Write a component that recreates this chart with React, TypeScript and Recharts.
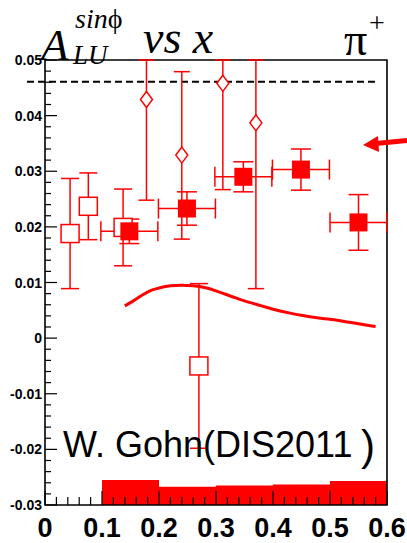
import {
  ComposedChart,
  Scatter,
  Line,
  XAxis,
  YAxis,
  ErrorBar,
  ReferenceArea,
  ReferenceLine,
} from 'recharts';

// New measurement: filled squares, x bins of 0.1
const newX = [0.148, 0.249, 0.348, 0.449, 0.55];
const newA = [0.0192, 0.0233, 0.029, 0.0303, 0.0208];
const newErr = [0.0022, 0.003, 0.0027, 0.0037, 0.005];
const newBinHalf = [0.05, 0.05, 0.05, 0.05, 0.05];

// Earlier measurement: open squares
const oldX = [0.044, 0.076, 0.137, 0.27];
const oldA = [0.0188, 0.0237, 0.0199, -0.005];
const oldErr = [0.0099, 0.006, 0.0069, 0.0148];

// Open diamonds, upper bars end at the frame top
const diaX = [0.178, 0.24, 0.312, 0.37];
const diaA = [0.0429, 0.0329, 0.0458, 0.0387];
const diaErrLow = [0.0181, 0.0151, 0.0191, 0.0298];
const diaErrHigh = [0.0071, 0.015, 0.0042, 0.0113];

// Model curve
const curveX = [0.14, 0.155, 0.17, 0.184, 0.2, 0.22, 0.24, 0.26, 0.28, 0.3, 0.33, 0.35, 0.38, 0.4, 0.43, 0.45, 0.48, 0.5, 0.53, 0.55, 0.58];
const curveA = [0.0058, 0.0067, 0.0077, 0.0085, 0.009, 0.0094, 0.0095, 0.0094, 0.0091, 0.0085, 0.0074, 0.0067, 0.0058, 0.0052, 0.0045, 0.0041, 0.0036, 0.0034, 0.0029, 0.0026, 0.0021];

// Systematic band per x bin
const sysLo = [0.1, 0.2, 0.3, 0.4, 0.5];
const sysHi = [0.2, 0.3, 0.4, 0.5, 0.6];
const sysTop = [-0.0255, -0.0267, -0.0265, -0.0263, -0.0257];

const dashedLevel = 0.0461;

const yMajor = [-0.03, -0.02, -0.01, 0, 0.01, 0.02, 0.03, 0.04, 0.05];
const yLabels = ['-0.03', '-0.02', '-0.01', '0', '0.01', '0.02', '0.03', '0.04', '0.05'];
const xMajor = [0, 0.1, 0.2, 0.3, 0.4, 0.5, 0.6];
const xLabels = ['0', '0.1', '0.2', '0.3', '0.4', '0.5', '0.6'];

const RED = '#ff0000';

const newData = newX.map((x, i) => ({ x, y: newA[i], ey: newErr[i], ex: newBinHalf[i] }));
const oldData = oldX.map((x, i) => ({ x, y: oldA[i], ey: oldErr[i] }));
const diaData = diaX.map((x, i) => ({ x, y: diaA[i], ey: [diaErrLow[i], diaErrHigh[i]] }));
const curveData = curveX.map((x, i) => ({ x, y: curveA[i] }));

// minor ticks between the labelled ones
const yTicks: number[] = [];
for (let i = -15; i <= 25; i++) yTicks.push(+(i * 0.002).toFixed(3));
const xTicks: number[] = [];
for (let i = 0; i <= 30; i++) xTicks.push(+(i * 0.02).toFixed(2));

const YTick = ({ x, y, payload }: any) => {
  const v = payload.value;
  const idx = yMajor.findIndex((m) => Math.abs(m - v) < 1e-9);
  const major = idx >= 0;
  return (
    <g>
      <line x1={x} y1={y} x2={x + (major ? 12 : 6)} y2={y} stroke="#000" strokeWidth={1.2} />
      {major && (
        <text x={x - 3} y={y + 5} textAnchor="end" fontSize={14} fontWeight="bold" fontFamily="Liberation Sans, Arial" fill="#000">
          {yLabels[idx]}
        </text>
      )}
    </g>
  );
};

const XTick = ({ x, y, payload }: any) => {
  const v = payload.value;
  const idx = xMajor.findIndex((m) => Math.abs(m - v) < 1e-9);
  const major = idx >= 0;
  return (
    <g>
      <line x1={x} y1={y} x2={x} y2={y - (major ? 14 : 8)} stroke="#000" strokeWidth={1.2} />
      {major && (
        <text x={x} y={y + 32} textAnchor="middle" fontSize={27} fontWeight="bold" fontFamily="Liberation Sans, Arial" fill="#000">
          {xLabels[idx]}
        </text>
      )}
    </g>
  );
};

const FilledSquare = ({ cx, cy }: any) => <rect x={cx - 9} y={cy - 9} width={18} height={18} fill={RED} />;
const OpenSquare = ({ cx, cy }: any) => (
  <rect x={cx - 9} y={cy - 9} width={18} height={18} fill="#fff" stroke={RED} strokeWidth={1.5} />
);
const Diamond = ({ cx, cy }: any) => (
  <polygon points={`${cx},${cy - 8} ${cx + 6},${cy} ${cx},${cy + 8} ${cx - 6},${cy}`} fill="#fff" stroke={RED} strokeWidth={1.5} />
);

const App = () => {
  return (
    <div style={{ position: 'absolute', left: 0, top: 0, width: 407, height: 543, background: '#fff' }}>
      <ComposedChart width={407} height={543} margin={{ top: 60, right: 20, left: 0, bottom: 0 }}>
        <XAxis
          type="number"
          dataKey="x"
          domain={[0, 0.6]}
          ticks={xTicks}
          interval={0}
          tick={<XTick />}
          tickLine={false}
          tickSize={0}
          tickMargin={0}
          height={38}
          axisLine={false}
          allowDataOverflow
        />
        <YAxis
          type="number"
          domain={[-0.03, 0.05]}
          ticks={yTicks}
          interval={0}
          tick={<YTick />}
          tickLine={false}
          tickSize={0}
          tickMargin={0}
          width={45}
          axisLine={false}
          allowDataOverflow
        />
        {sysLo.map((lo, i) => (
          <ReferenceArea key={`sys-${i}`} x1={lo} x2={sysHi[i]} y1={-0.03} y2={sysTop[i]} fill={RED} fillOpacity={1} stroke="none" />
        ))}
        <ReferenceArea x1={0} x2={0.6} y1={-0.03} y2={0.05} fill="none" stroke="#000" strokeWidth={1.6} />
        <ReferenceLine
          segment={[{ x: -0.0316, y: dashedLevel }, { x: 0.5825, y: dashedLevel }]}
          stroke="#000"
          strokeWidth={2}
          strokeDasharray="7 4"
          ifOverflow="visible"
        />
        <Line data={curveData} dataKey="y" type="monotone" stroke={RED} strokeWidth={3} dot={false} isAnimationActive={false} />
        <Scatter data={oldData} dataKey="y" shape={<OpenSquare />} isAnimationActive={false}>
          <ErrorBar dataKey="ey" direction="y" width={9} stroke={RED} strokeWidth={1.5} />
        </Scatter>
        <Scatter data={diaData} dataKey="y" shape={<Diamond />} isAnimationActive={false}>
          <ErrorBar dataKey="ey" direction="y" width={8} stroke={RED} strokeWidth={1.5} />
        </Scatter>
        <Scatter data={newData} dataKey="y" shape={<FilledSquare />} isAnimationActive={false}>
          <ErrorBar dataKey="ey" direction="y" width={10} stroke={RED} strokeWidth={1.5} />
          <ErrorBar dataKey="ex" direction="x" width={10} stroke={RED} strokeWidth={1.5} />
        </Scatter>
      </ComposedChart>
      <svg width={407} height={543} style={{ position: 'absolute', left: 0, top: 0, pointerEvents: 'none' }}>
        <g fontFamily="Liberation Serif, Times New Roman, serif" fontStyle="italic" fill="#000">
          <text x={41} y={60} fontSize={45}>A</text>
          <text x={73} y={64} fontSize={27}>LU</text>
          <text x={75} y={28} fontSize={28}>sin<tspan fontStyle="normal">ϕ</tspan></text>
          <text x={143} y={53} fontSize={46}>vs x</text>
        </g>
        <g fontFamily="Liberation Serif, Times New Roman, serif" fill="#000">
          <text x={344} y={55} fontSize={46}>π</text>
          <text x={369} y={32} fontSize={28}>+</text>
        </g>
        <text x={63} y={457} fontSize={36} fontFamily="Liberation Sans, Arial, sans-serif" fill="#000">
          W. Gohn(DIS2011
        </text>
        <text x={361} y={460} fontSize={42} fontFamily="Liberation Sans, Arial, sans-serif" fill="#000">
          )
        </text>
        <line x1={407} y1={140.5} x2={376} y2={143.5} stroke={RED} strokeWidth={5} />
        <polygon points="363,145 378,136 379,152" fill={RED} />
      </svg>
    </div>
  );
};

export default App;
